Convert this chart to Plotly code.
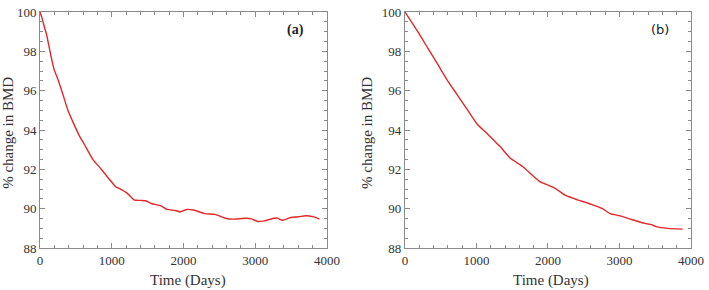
import plotly.graph_objects as go

# Panel (a)
a_days = [0, 23, 64, 92, 138, 193, 253, 313, 391, 460, 543, 621, 736, 851, 943,
          1057, 1103, 1218, 1310, 1400, 1471, 1563, 1678, 1770, 1885, 1954, 2046,
          2138, 2299, 2437, 2598, 2690, 2874, 2943, 3034, 3126, 3264, 3310, 3379,
          3494, 3609, 3701, 3816, 3894]
a_bmd = [100, 99.75, 99.2, 98.85, 98.02, 97.12, 96.54, 95.88, 94.98, 94.40, 93.74,
         93.25, 92.51, 92.02, 91.60, 91.11, 91.03, 90.78, 90.45, 90.42, 90.40, 90.25,
         90.15, 89.96, 89.91, 89.84, 89.96, 89.93, 89.75, 89.71, 89.50, 89.47, 89.51,
         89.48, 89.35, 89.38, 89.51, 89.52, 89.41, 89.55, 89.59, 89.64, 89.58, 89.47]

# Panel (b)
b_days = [0, 177, 315, 453, 591, 729, 867, 1005, 1140, 1236, 1328, 1466, 1650, 1881,
          2088, 2249, 2410, 2525, 2618, 2756, 2871, 3009, 3170, 3354, 3446, 3515,
          3676, 3883]
b_bmd = [100, 99.01, 98.19, 97.37, 96.54, 95.80, 95.06, 94.32, 93.85, 93.50, 93.17,
         92.59, 92.13, 91.39, 91.06, 90.67, 90.45, 90.32, 90.21, 90.01, 89.75, 89.63,
         89.45, 89.25, 89.19, 89.09, 89.00, 88.96]

x_ticks = [0, 1000, 2000, 3000, 4000]
y_ticks = [88, 90, 92, 94, 96, 98, 100]
panel_labels = ["(a)", "(b)"]
x_title = "Time (Days)"
y_title = "% change in BMD"

FONT = "Liberation Serif"
AX = "#8a8a8a"
RED = "#e0282a"

fig = go.Figure()
fig.add_trace(go.Scatter(x=a_days, y=a_bmd, mode="lines", xaxis="x", yaxis="y",
                         line=dict(color=RED, width=1.4, shape="spline", smoothing=0.6),
                         showlegend=False))
fig.add_trace(go.Scatter(x=b_days, y=b_bmd, mode="lines", xaxis="x2", yaxis="y2",
                         line=dict(color=RED, width=1.4, shape="spline", smoothing=0.6),
                         showlegend=False))

def xax(domain, anchor):
    return dict(domain=domain, anchor=anchor, range=[0, 4000], tickvals=x_ticks,
                ticktext=[str(v) for v in x_ticks],
                ticks="inside", ticklen=5, tickcolor=AX, tickwidth=1,
                showline=True, linecolor=AX, linewidth=1, mirror="allticks",
                showgrid=False, zeroline=False, ticklabeloverflow="allow",
                minor=dict(dtick=200, ticks="inside", ticklen=3, tickcolor=AX,
                           showgrid=False),
                tickfont=dict(family=FONT, size=13, color="#333"))

def yax(anchor):
    return dict(domain=[0, 1], anchor=anchor, range=[88, 100], tickvals=y_ticks,
                ticktext=[str(v) for v in y_ticks],
                ticks="inside", ticklen=5, tickcolor=AX, tickwidth=1,
                showline=True, linecolor=AX, linewidth=1, mirror="allticks",
                showgrid=False, zeroline=False, ticklabeloverflow="allow",
                minor=dict(dtick=0.5, ticks="inside", ticklen=3, tickcolor=AX,
                           showgrid=False),
                tickfont=dict(family=FONT, size=13, color="#333"))

L, R, T, B = 40, 9, 5, 42
W, H = 709, 290
pw = W - L - R
fig.update_layout(
    width=W, height=H,
    margin=dict(l=L, r=R, t=T, b=B),
    paper_bgcolor="white", plot_bgcolor="white",
    xaxis=xax([0, 291 / pw], "y"),
    yaxis=yax("x"),
    xaxis2=xax([370 / pw, 1], "y2"),
    yaxis2=yax("x2"),
)

ann = []
ann.append(dict(text="<b>" + panel_labels[0] + "</b>", x=3560, y=99.1, xref="x", yref="y",
                showarrow=False, font=dict(family=FONT, size=14, color="#222")))
ann.append(dict(text=panel_labels[1], x=3566, y=99.1, xref="x2", yref="y2",
                showarrow=False, font=dict(family="DejaVu Sans", size=13, color="#222")))
ph = H - T - B
for xp in [(8 - L) / pw, (372 - L) / pw]:
    ann.append(dict(text=y_title, x=xp, y=(248 - 129) / ph, xref="paper", yref="paper",
                    textangle=-90, showarrow=False, xanchor="center", yanchor="middle",
                    font=dict(family=FONT, size=15, color="#333")))
for xp in [(190 - L) / pw, (558 - L) / pw]:
    ann.append(dict(text=x_title, x=xp, y=-(281 - 248) / ph, xref="paper", yref="paper",
                    showarrow=False, xanchor="center", yanchor="middle",
                    font=dict(family=FONT, size=15, color="#333")))
fig.update_layout(annotations=ann)

fig.write_html("out.html")
